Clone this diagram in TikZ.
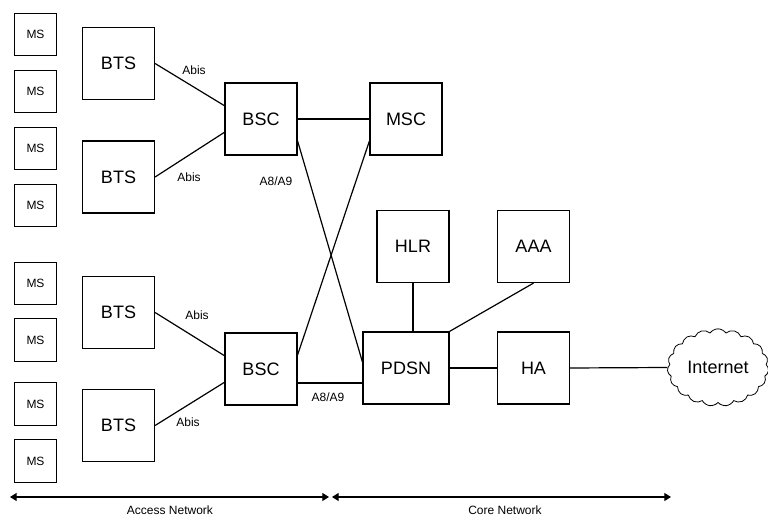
\documentclass[tikz,border=0pt]{standalone}
\usepackage{fontspec}
\setmainfont{Liberation Sans}
\usetikzlibrary{arrows.meta,shapes.symbols}
\begin{document}
\begin{tikzpicture}[x=0.75pt, y=-0.75pt, line width=0.9pt,
  kutu/.style={draw, minimum width=54pt, minimum height=54pt, inner sep=0pt, font=\fontsize{13.5}{15}\selectfont},
  mskutu/.style={draw, minimum size=32pt, inner sep=0pt, font=\fontsize{9}{10}\selectfont},
  etiket/.style={font=\fontsize{9}{10}\selectfont},
  ucok/.style={{Triangle[length=5pt,width=6pt]}-{Triangle[length=5pt,width=6pt]}}]
  \useasboundingbox (0,0) rectangle (768,516);
  % MS kutulari
  \foreach \y [count=\i] in {34.5,91.5,148.5,205.5,283.5,340,404,461}
    \node[mskutu] (ms\i) at (35.5,\y) {MS};
  % BTS ve BSC
  \foreach \y [count=\i] in {63.5,177,312.5,425.5}
    \node[kutu] (bts\i) at (118.5,\y) {BTS};
  \node[kutu] (bsc1) at (261,119) {BSC};
  \node[kutu] (bsc2) at (261,369) {BSC};
  % cekirdek ag
  \node[kutu] (msc) at (406,119) {MSC};
  \node[kutu] (hlr) at (413,246.5) {HLR};
  \node[kutu] (aaa) at (533.5,246.5) {AAA};
  \node[kutu, minimum width=64.5pt] (pdsn) at (406,368) {PDSN};
  \node[kutu] (ha) at (533.5,368) {HA};
  \node[cloud, draw, cloud puffs=19, cloud puff arc=110, aspect=1.3,
        minimum width=76pt, minimum height=58pt, inner sep=0pt, line width=0.6pt,
        font=\fontsize{13.5}{15}\selectfont] (inet) at (718,367.5) {Internet};
  % baglantilar
  \draw (bts1.east) -- (bsc1.160);
  \draw (bts2.east) -- (bsc1.200);
  \draw (bts3.east) -- (bsc2.160);
  \draw (bts4.east) -- (bsc2.200);
  \draw (bsc1.east) -- (msc.west);
  \draw (bsc1.-31) -- (pdsn.172);
  \draw (bsc2.21) -- (msc.211);
  \draw (bsc2.-21) -- (bsc2.-21 -| pdsn.west);
  \draw (hlr.south) -- (hlr.south |- pdsn.north);
  \draw (aaa.south) -- (pdsn.north east);
  \draw (pdsn.east) -- (ha.west);
  \draw (ha.east) -- (inet.west);
  % etiketler
  \node[etiket] (abis1) at (194,70) {Abis};
  \node[etiket] (abis2) at (189,177) {Abis};
  \node[etiket] (abis3) at (197,315) {Abis};
  \node[etiket] (abis4) at (188,422) {Abis};
  \node[etiket] (a89a) at (276,181) {A8/A9};
  \node[etiket] (a89b) at (328,397) {A8/A9};
  % alt oklar
  \coordinate (o0) at (10,497);
  \coordinate (o1) at (329,497);
  \coordinate (o2) at (332,497);
  \coordinate (o3) at (671,497);
  \draw[ucok] (o0) -- (o1);
  \draw[ucok] (o2) -- (o3);
  \node[etiket] (erisim) at (170,510) {Access Network};
  \node[etiket] (cekirdek) at (505,510) {Core Network};
\end{tikzpicture}
\end{document}
